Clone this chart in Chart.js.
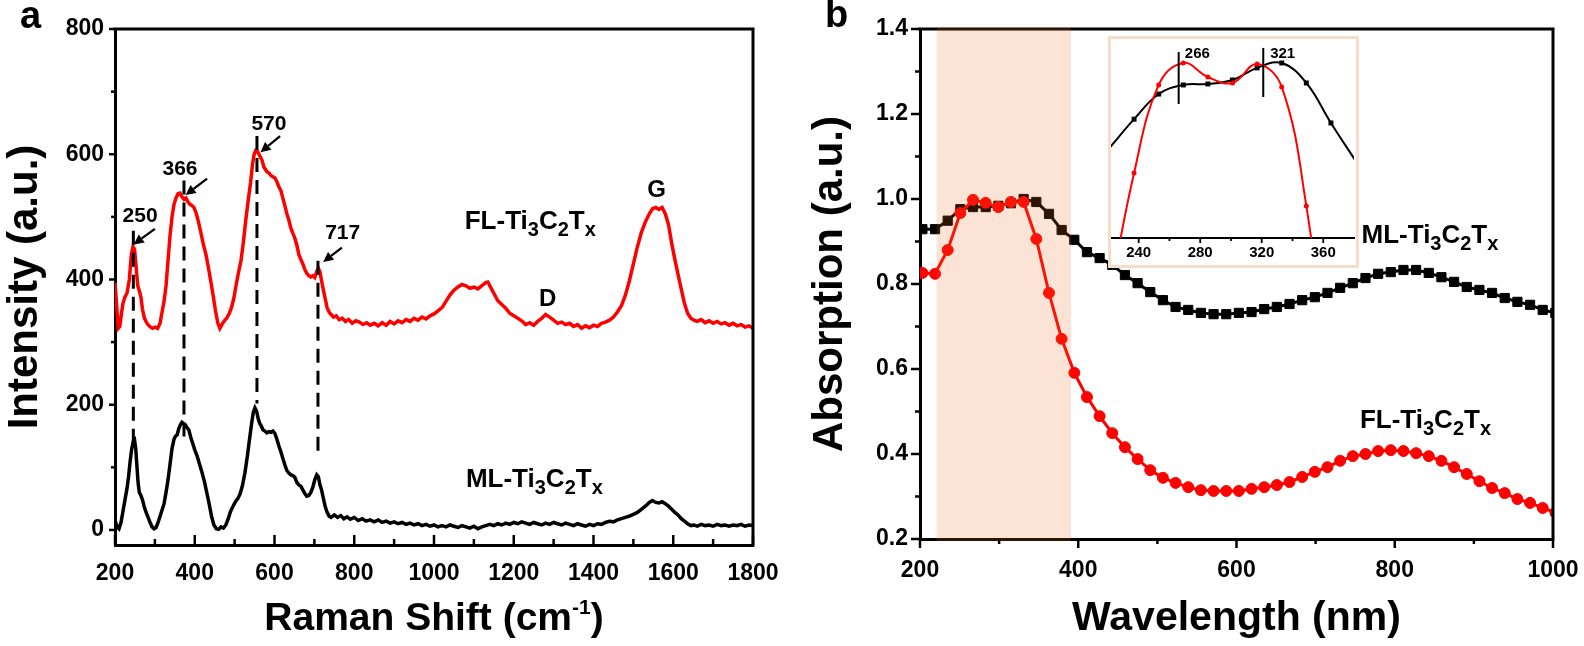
<!DOCTYPE html>
<html><head><meta charset="utf-8">
<script src="https://cdn.jsdelivr.net/npm/chart.js@4/dist/chart.umd.min.js"></script>
<style>
html,body{margin:0;padding:0;background:#fff;width:1584px;height:646px;overflow:hidden;position:relative}
#ca{position:absolute;left:0;top:0}
#cb{position:absolute;left:792px;top:0}
#inbox{position:absolute;left:1108px;top:36px;width:251px;height:232px;box-sizing:border-box;border:3px solid #F8DCC9;background:#fff}
#ci{position:absolute;left:0;top:0}
</style></head><body>
<canvas id="ca" width="792" height="646"></canvas>
<canvas id="cb" width="792" height="646"></canvas>
<div id="inbox"><canvas id="ci" width="245" height="226"></canvas></div>
<script>
// ================= DATA =================
// Panel a : Raman spectra  [Raman shift (cm-1), intensity (a.u.)]
const ramanFL = [[200,395],[204,360],[208,322],[212,325],[216,345],[220,362],[225,372],[230,378],[236,400],[241,440],[245,452],[249,448],[253,420],[257,390],[261,382],[265,372],[269,352],[274,338],[280,330],[287,325],[294,322],[301,324],[307,322],[313,330],[318,348],[323,365],[328,390],[333,430],[338,470],[343,500],[348,520],[353,530],[358,537],[363,538],[368,532],[373,528],[378,530],[383,524],[388,520],[393,518],[398,515],[404,505],[410,490],[416,473],[422,455],[428,440],[434,420],[440,398],[446,375],[452,350],[458,330],[463,322],[468,328],[474,334],[480,338],[486,345],[492,355],[498,370],[504,392],[510,412],[516,430],[522,460],[528,495],[534,526],[540,555],[545,585],[549,600],[553,606],[557,605],[561,600],[565,595],[569,590],[573,580],[577,576],[581,572],[586,570],[591,566],[596,564],[601,562],[606,556],[611,548],[616,542],[621,530],[626,518],[631,505],[636,495],[641,482],[646,474],[651,466],[656,455],[661,440],[666,432],[671,425],[676,416],[681,410],[686,406],[691,404],[696,406],[701,403],[706,413],[710,418],[714,412],[718,398],[722,385],[727,370],[732,355],[737,348],[742,344],[748,340],[755,342],[762,336],[770,338],[778,333],[786,336],[795,330],[804,334],[813,332],[822,328],[831,331],[840,327],[850,330],[860,326],[870,331],[880,327],[890,333],[900,329],[910,334],[920,331],[930,336],[940,333],[950,338],[960,335],[970,340],[980,337],[990,342],[1000,345],[1010,350],[1020,355],[1030,365],[1040,375],[1050,383],[1060,388],[1070,392],[1080,390],[1090,386],[1100,388],[1110,385],[1120,390],[1130,395],[1135,396],[1140,390],[1150,378],[1160,366],[1170,360],[1180,354],[1190,346],[1200,342],[1210,338],[1220,334],[1230,328],[1240,331],[1250,327],[1260,333],[1270,338],[1280,344],[1290,340],[1300,335],[1310,330],[1320,332],[1330,328],[1340,330],[1350,325],[1360,328],[1370,322],[1380,326],[1390,323],[1400,327],[1410,325],[1420,330],[1430,332],[1440,335],[1450,340],[1460,348],[1470,358],[1480,375],[1490,398],[1500,425],[1510,452],[1520,475],[1530,492],[1540,505],[1548,513],[1556,515],[1564,512],[1572,515],[1580,505],[1588,488],[1596,458],[1604,432],[1612,408],[1620,385],[1628,362],[1636,346],[1644,338],[1652,335],[1660,333],[1670,336],[1680,331],[1690,334],[1700,330],[1710,333],[1720,329],[1730,331],[1740,327],[1750,330],[1760,326],[1770,328],[1780,324],[1790,326],[1800,322]];
const ramanML = [[200,16],[205,5],[210,2],[215,12],[220,30],[225,48],[230,66],[234,85],[238,110],[242,130],[246,142],[249,144],[252,130],[255,102],[258,75],[261,60],[265,55],[269,48],[273,38],[278,28],[283,20],[288,12],[293,5],[298,2],[303,4],[308,12],[313,22],[318,32],[323,42],[328,60],[333,80],[338,105],[343,130],[348,145],[352,150],[356,152],[360,162],[364,168],[368,172],[372,170],[376,168],[380,164],[385,160],[390,148],[395,138],[400,128],[406,118],[412,105],[418,92],[424,78],[430,60],[436,42],[442,22],[448,8],[454,2],[460,1],[466,5],[472,3],[478,8],[484,18],[490,30],[496,38],[502,45],[508,50],[514,58],[520,72],[526,92],[532,118],[538,148],[543,172],[547,188],[551,195],[555,190],[559,178],[563,170],[567,166],[571,160],[576,158],[581,155],[586,157],[591,156],[596,158],[601,154],[606,145],[611,134],[616,125],[621,114],[626,104],[631,95],[636,91],[641,88],[646,87],[651,84],[656,76],[661,72],[666,70],[671,64],[676,58],[681,54],[686,55],[691,60],[696,68],[701,80],[706,88],[710,85],[714,72],[718,64],[722,52],[727,38],[732,28],[737,22],[742,20],[750,24],[758,20],[766,23],[774,18],[782,21],[790,17],[800,20],[810,15],[820,18],[830,14],[840,16],[850,13],[860,16],[870,12],[880,14],[890,11],[900,13],[910,10],[920,12],[930,9],[940,11],[950,8],[960,10],[970,7],[980,9],[990,6],[1000,8],[1010,5],[1020,7],[1030,5],[1040,8],[1050,6],[1060,4],[1070,7],[1080,5],[1090,3],[1100,6],[1110,2],[1120,5],[1130,7],[1140,9],[1150,7],[1160,10],[1170,8],[1180,11],[1190,9],[1200,12],[1210,10],[1220,13],[1230,11],[1240,9],[1250,12],[1260,10],[1270,8],[1280,11],[1290,9],[1300,12],[1310,10],[1320,8],[1330,11],[1340,9],[1350,7],[1360,10],[1370,8],[1380,6],[1390,9],[1400,7],[1410,10],[1420,9],[1430,12],[1440,14],[1450,13],[1460,16],[1470,18],[1480,20],[1490,22],[1500,25],[1510,28],[1520,33],[1530,38],[1540,44],[1548,47],[1556,44],[1564,43],[1572,45],[1580,42],[1588,38],[1596,33],[1604,28],[1612,24],[1620,18],[1628,14],[1636,10],[1644,7],[1652,8],[1660,6],[1670,9],[1680,7],[1690,8],[1700,6],[1710,9],[1720,7],[1730,8],[1740,6],[1750,8],[1760,7],[1770,9],[1780,6],[1790,8],[1800,7]];

const xTicksA = [200,400,600,800,1000,1200,1400,1600,1800];
const xMinorA = [300,500,700,900,1100,1300,1500,1700];
const yTicksA = [0,200,400,600,800];
const yMinorA = [100,300,500,700];
const xTitleA = ['Raman Shift (cm', '-1', ')'];   // normal, superscript, normal

const peakLabels = ['250','366','570','717'];
const peakLabelX = [263,363,586,771];
const peakLabelY = [492,567,639,465];
const peakLineX = [246,373,556,709];
const peakLineTop = [478,558,629,430];
const peakLineBottom = [132,139,202,116];
const arrowFrom = [[300,481],[431,561],[614,629],[769,451]];
const arrowTo = [[247,456],[377,535],[565,603],[722,428]];
const bandLabels = ['D','G'];
const bandX = [1285,1558];
const bandY = [358,531];
const speciesA = ['FL-Ti_3C_2T_x','ML-Ti_3C_2T_x'];
const speciesAX = [1077,1080];
const speciesAY = [481,69];

// Panel b : absorption spectra
const wavelength = [203,219,235,251,267,283,299,315,331,347,363,379,395,411,427,443,459,475,491,507,523,539,555,571,587,603,619,635,651,667,683,699,715,731,747,763,779,795,811,827,843,859,875,891,907,923,939,955,971,987,1003];
const absFL = [0.826,0.824,0.88,0.967,0.998,0.991,0.981,0.993,0.993,0.906,0.779,0.671,0.591,0.534,0.489,0.449,0.416,0.388,0.362,0.344,0.332,0.322,0.315,0.313,0.313,0.313,0.318,0.322,0.327,0.334,0.346,0.358,0.369,0.384,0.395,0.40,0.407,0.409,0.407,0.402,0.395,0.384,0.369,0.353,0.336,0.32,0.308,0.294,0.285,0.273,0.262];
const absML = [0.929,0.929,0.949,0.976,0.981,0.981,0.984,0.99,1.0,0.993,0.965,0.927,0.904,0.875,0.861,0.845,0.821,0.802,0.781,0.762,0.746,0.739,0.732,0.729,0.729,0.732,0.734,0.741,0.746,0.753,0.762,0.769,0.779,0.791,0.802,0.814,0.824,0.828,0.833,0.833,0.826,0.816,0.805,0.793,0.786,0.779,0.767,0.758,0.751,0.739,0.732];
const xTicksB = [200,400,600,800,1000];
const xMinorB = [300,500,700,900];
const yTicksB = [0.2,0.4,0.6,0.8,1.0,1.2,1.4];
const yMinorB = [0.3,0.5,0.7,0.9,1.1,1.3];
const shadeRange = [221,391];
const speciesB = ['ML-Ti_3C_2T_x','FL-Ti_3C_2T_x'];
const speciesBX = [758,756];
const speciesBY = [0.896,0.461];

// Inset (relative absorption, zoomed 222-380 nm)
const insetWavelength = [221,237,253,269,285,301,317,333,349,365,381];
const insetML = [0.455,0.60,0.727,0.773,0.778,0.798,0.859,0.884,0.783,0.581,0.39];
const insetFL = [-0.30,0.328,0.773,0.884,0.813,0.783,0.879,0.763,0.162,-0.80,-1.8];
const insetTicks = [240,280,320,360];
const insetMinor = [260,300,340];
const markerLabels = ['266','321'];
const markerX = [266,321];
const markerTop = [0.939,0.96];
const markerBottom = [0.677,0.712];
const markerLabelX = [270,325.5];
const markerLabelY = [0.909,0.909];

// ================= HELPERS =================
const FONT = "'Liberation Sans', Arial, sans-serif";
function chemText(ctx, str, x, y, size){
  ctx.textBaseline='alphabetic'; ctx.textAlign='left'; ctx.fillStyle='#000';
  let cx=x, i=0;
  while(i<str.length){
    if(str[i]==='_'){
      const c=str[i+1]; ctx.font=`bold ${Math.round(size*0.75)}px ${FONT}`;
      ctx.fillText(c,cx,y+size*0.28); cx+=ctx.measureText(c).width; i+=2;
    } else {
      let j=i; while(j<str.length && str[j]!=='_') j++;
      const run=str.slice(i,j); ctx.font=`bold ${size}px ${FONT}`;
      ctx.fillText(run,cx,y); cx+=ctx.measureText(run).width; i=j;
    }
  }
}
function tickSet(ctx, ca, xs, ys, spec){
  ctx.save(); ctx.strokeStyle='#000'; ctx.setLineDash([]); ctx.lineCap='butt';
  const xt=(vals,len,dir,w)=>vals.forEach(v=>{const p=xs.getPixelForValue(v);ctx.lineWidth=w;ctx.beginPath();ctx.moveTo(p,ca.bottom);ctx.lineTo(p,ca.bottom+(dir==='in'?-len:len));ctx.stroke();});
  const yt=(vals,len,dir,w)=>vals.forEach(v=>{const p=ys.getPixelForValue(v);ctx.lineWidth=w;ctx.beginPath();ctx.moveTo(ca.left,p);ctx.lineTo(ca.left+(dir==='in'?len:-len),p);ctx.stroke();});
  if(spec.xMaj) xt(spec.xMaj,spec.xMajLen,spec.xDir,spec.w);
  if(spec.xMin) xt(spec.xMin,spec.xMinLen,spec.xDir,spec.w);
  if(spec.yMaj) yt(spec.yMaj,spec.yMajLen,spec.yDir,spec.w);
  if(spec.yMin) yt(spec.yMin,spec.yMinLen,spec.yDir,spec.w);
  ctx.restore();
}
function frame(ctx, ca){
  ctx.save(); ctx.strokeStyle='#000'; ctx.lineWidth=3; ctx.setLineDash([]);
  ctx.beginPath(); ctx.moveTo(ca.left-1.5,ca.top); ctx.lineTo(ca.right,ca.top); ctx.lineTo(ca.right,ca.bottom+1.5); ctx.stroke();
  ctx.restore();
}
function arrow(ctx,x1,y1,x2,y2){
  const ang=Math.atan2(y2-y1,x2-x1), hl=10, hw=5;
  const bx=x2-hl*Math.cos(ang), by=y2-hl*Math.sin(ang);
  ctx.lineWidth=2.2; ctx.beginPath(); ctx.moveTo(x1,y1); ctx.lineTo(bx,by); ctx.stroke();
  ctx.beginPath(); ctx.moveTo(x2,y2);
  ctx.lineTo(bx+hw*Math.sin(ang), by-hw*Math.cos(ang));
  ctx.lineTo(bx-hw*Math.sin(ang), by+hw*Math.cos(ang));
  ctx.closePath(); ctx.fill();
}
function superTitle(ctx, parts, cx, baseline, size){
  const big=`bold ${size}px ${FONT}`, small=`bold ${Math.round(size*0.55)}px ${FONT}`;
  ctx.font=big; const w0=ctx.measureText(parts[0]).width, w2=ctx.measureText(parts[2]).width;
  ctx.font=small; const w1=ctx.measureText(parts[1]).width;
  let x=cx-(w0+w1+w2)/2;
  ctx.textAlign='left'; ctx.textBaseline='alphabetic'; ctx.fillStyle='#000';
  ctx.font=big; ctx.fillText(parts[0],x,baseline); x+=w0;
  ctx.font=small; ctx.fillText(parts[1],x,baseline-size*0.42); x+=w1;
  ctx.font=big; ctx.fillText(parts[2],x,baseline);
}
const tickFont = {family:FONT, size:23, weight:'bold'};
const numLabel = v => String(v);
const fixX = h => s => { s.height = h; s.paddingLeft = 0; s.paddingRight = 0; };
const fixY = w => s => { s.width = w; s.paddingTop = 0; s.paddingBottom = 0; };

// ================= PANEL A =================
const annA = {id:'annA', afterDraw(chart){
  const {ctx, chartArea:ca, scales:{x,y}} = chart;
  frame(ctx,ca);
  tickSet(ctx,ca,x,y,{xMaj:xTicksA,xMin:xMinorA,xMajLen:10,xMinLen:6,xDir:'in',yMaj:yTicksA,yMin:yMinorA,yMajLen:6,yMinLen:4,yDir:'out',w:2.5});
  ctx.save(); ctx.strokeStyle='#000'; ctx.fillStyle='#000';
  ctx.lineWidth=3; ctx.setLineDash([14,8]);
  peakLineX.forEach((p,i)=>{const px=x.getPixelForValue(p);ctx.beginPath();ctx.moveTo(px,y.getPixelForValue(peakLineTop[i]));ctx.lineTo(px,y.getPixelForValue(peakLineBottom[i]));ctx.stroke();});
  ctx.setLineDash([]);
  arrowFrom.forEach((f,i)=>arrow(ctx,x.getPixelForValue(f[0]),y.getPixelForValue(f[1]),x.getPixelForValue(arrowTo[i][0]),y.getPixelForValue(arrowTo[i][1])));
  ctx.font=`bold 21px ${FONT}`; ctx.textAlign='center'; ctx.textBaseline='alphabetic';
  peakLabels.forEach((t,i)=>ctx.fillText(t,x.getPixelForValue(peakLabelX[i]),y.getPixelForValue(peakLabelY[i])));
  ctx.font=`bold 24px ${FONT}`;
  bandLabels.forEach((t,i)=>ctx.fillText(t,x.getPixelForValue(bandX[i]),y.getPixelForValue(bandY[i])));
  speciesA.forEach((t,i)=>chemText(ctx,t,x.getPixelForValue(speciesAX[i]),y.getPixelForValue(speciesAY[i]),26));
  superTitle(ctx, xTitleA, (ca.left+ca.right)/2, 630, 39);
  ctx.font=`bold 38px ${FONT}`; ctx.textAlign='left'; ctx.fillText('a',20,28);
  ctx.restore();
}};

new Chart(document.getElementById('ca'), {
  type:'line',
  data:{datasets:[
    {data: ramanFL.map(p=>({x:p[0],y:p[1]})), borderColor:'#ff0000', borderWidth:3.5, pointRadius:0, tension:0},
    {data: ramanML.map(p=>({x:p[0],y:p[1]})), borderColor:'#000000', borderWidth:3.5, pointRadius:0, tension:0}
  ]},
  options:{
    responsive:false, animation:false, devicePixelRatio:1,
    layout:{padding:{left:0,top:29,right:39,bottom:0}},
    plugins:{legend:{display:false}, tooltip:{enabled:false}},
    scales:{
      x:{type:'linear', min:200, max:1800,
        afterBuildTicks:s=>{s.ticks=xTicksA.map(v=>({value:v}));},
        afterFit:fixX(101),
        grid:{display:false, drawTicks:false}, border:{display:true,color:'#000',width:3},
        ticks:{padding:15,color:'#000',font:tickFont,maxRotation:0,autoSkip:false,callback:numLabel},
        title:{display:false}},
      y:{type:'linear', min:-24, max:800,
        afterBuildTicks:s=>{s.ticks=yTicksA.map(v=>({value:v}));},
        afterFit:fixY(115),
        grid:{display:false, drawTicks:false}, border:{display:true,color:'#000',width:3},
        ticks:{padding:11,color:'#000',font:tickFont,autoSkip:false,callback:numLabel},
        title:{display:true,text:'Intensity (a.u.)',color:'#000',font:{family:FONT,size:42,weight:'bold'},padding:{top:0,bottom:0}}}
    }
  },
  plugins:[annA]
});

// ================= PANEL B =================
const annB = {id:'annB', afterDraw(chart){
  const {ctx, chartArea:ca, scales:{x,y}} = chart;
  frame(ctx,ca);
  tickSet(ctx,ca,x,y,{xMaj:xTicksB,xMin:xMinorB,xMajLen:9,xMinLen:5,xDir:'out',yMaj:yTicksB,yMin:yMinorB,yMajLen:9,yMinLen:5,yDir:'out',w:2.5});
  ctx.save();
  speciesB.forEach((t,i)=>chemText(ctx,t,x.getPixelForValue(speciesBX[i]),y.getPixelForValue(speciesBY[i]),26));
  ctx.fillStyle='#000'; ctx.font=`bold 38px ${FONT}`; ctx.textAlign='left'; ctx.textBaseline='alphabetic'; ctx.fillText('b',33,27);
  const x0=x.getPixelForValue(shadeRange[0]), x1=x.getPixelForValue(shadeRange[1]);
  ctx.fillStyle='rgba(234,104,31,0.19)';
  ctx.fillRect(x0, ca.top-2, x1-x0, ca.bottom-ca.top+4);
  ctx.restore();
}};

new Chart(document.getElementById('cb'), {
  type:'line',
  data:{datasets:[
    {data: wavelength.map((w,i)=>({x:w,y:absFL[i]})), borderColor:'#ff0000', borderWidth:3, pointStyle:'circle', pointRadius:5.5, pointBorderWidth:1, pointBackgroundColor:'#ff0000', pointBorderColor:'#ff0000', tension:0},
    {data: wavelength.map((w,i)=>({x:w,y:absML[i]})), borderColor:'#000000', borderWidth:3, pointStyle:'rect', pointRadius:6.5, pointBorderWidth:1, pointBackgroundColor:'#000000', pointBorderColor:'#000000', tension:0}
  ]},
  options:{
    responsive:false, animation:false, devicePixelRatio:1,
    layout:{padding:{left:0,top:29,right:31,bottom:0}},
    plugins:{legend:{display:false}, tooltip:{enabled:false}},
    scales:{
      x:{type:'linear', min:200, max:1000,
        afterBuildTicks:s=>{s.ticks=xTicksB.map(v=>({value:v}));},
        afterFit:fixX(107),
        grid:{display:false, drawTicks:false}, border:{display:true,color:'#000',width:3},
        ticks:{padding:18,color:'#000',font:tickFont,maxRotation:0,autoSkip:false,callback:numLabel},
        title:{display:true,text:'Wavelength (nm)',color:'#000',font:{family:FONT,size:41,weight:'bold'},padding:{top:0,bottom:3}}},
      y:{type:'linear', min:0.2, max:1.4,
        afterBuildTicks:s=>{s.ticks=yTicksB.map(v=>({value:v}));},
        afterFit:fixY(128),
        grid:{display:false, drawTicks:false}, border:{display:true,color:'#000',width:3},
        ticks:{padding:12,color:'#000',font:tickFont,autoSkip:false,callback:v=>Number(v).toFixed(1)},
        title:{display:true,text:'Absorption (a.u.)',color:'#000',font:{family:FONT,size:42,weight:'bold'},padding:{top:13,bottom:0}}}
    }
  },
  plugins:[annB]
});

// ================= INSET =================
const annI = {id:'annI', afterDraw(chart){
  const {ctx, chartArea:ca, scales:{x,y}} = chart;
  tickSet(ctx,ca,x,y,{xMaj:insetTicks,xMin:insetMinor,xMajLen:5,xMinLen:3,xDir:'out',w:1.8});
  ctx.save(); ctx.strokeStyle='#000'; ctx.fillStyle='#000'; ctx.lineWidth=2;
  markerX.forEach((m,i)=>{const px=x.getPixelForValue(m);ctx.beginPath();ctx.moveTo(px,y.getPixelForValue(markerTop[i]));ctx.lineTo(px,y.getPixelForValue(markerBottom[i]));ctx.stroke();});
  ctx.font=`bold 15px ${FONT}`; ctx.textAlign='left'; ctx.textBaseline='alphabetic';
  markerLabels.forEach((t,i)=>ctx.fillText(t,x.getPixelForValue(markerLabelX[i]),y.getPixelForValue(markerLabelY[i])));
  ctx.restore();
}};
const insetRadius = (r) => (c) => { const w = insetWavelength[c.dataIndex]; return (w < 230 || w > 372) ? 0 : r; };
new Chart(document.getElementById('ci'), {
  type:'line',
  data:{datasets:[
    {data: insetWavelength.map((w,i)=>({x:w,y:insetFL[i]})), borderColor:'#ff0000', borderWidth:2, pointStyle:'circle', pointRadius:insetRadius(2.5), pointBorderWidth:0, pointBackgroundColor:'#ff0000', tension:0.4},
    {data: insetWavelength.map((w,i)=>({x:w,y:insetML[i]})), borderColor:'#000000', borderWidth:2, pointStyle:'rect', pointRadius:insetRadius(3.5), pointBorderWidth:0, pointBackgroundColor:'#000000', tension:0.4}
  ]},
  options:{
    responsive:false, animation:false, devicePixelRatio:1,
    layout:{padding:{left:0,top:1,right:2,bottom:0}},
    plugins:{legend:{display:false}, tooltip:{enabled:false}},
    scales:{
      x:{type:'linear', min:222, max:380,
        afterBuildTicks:s=>{s.ticks=insetTicks.map(v=>({value:v}));},
        afterFit:fixX(27),
        grid:{display:false, drawTicks:false}, border:{display:true,color:'#000',width:2},
        ticks:{padding:6,color:'#000',font:{family:FONT,size:15,weight:'bold'},maxRotation:0,autoSkip:false,callback:numLabel}},
      y:{type:'linear', min:0, max:1, display:false}
    }
  },
  plugins:[annI]
});
</script>
</body></html>
